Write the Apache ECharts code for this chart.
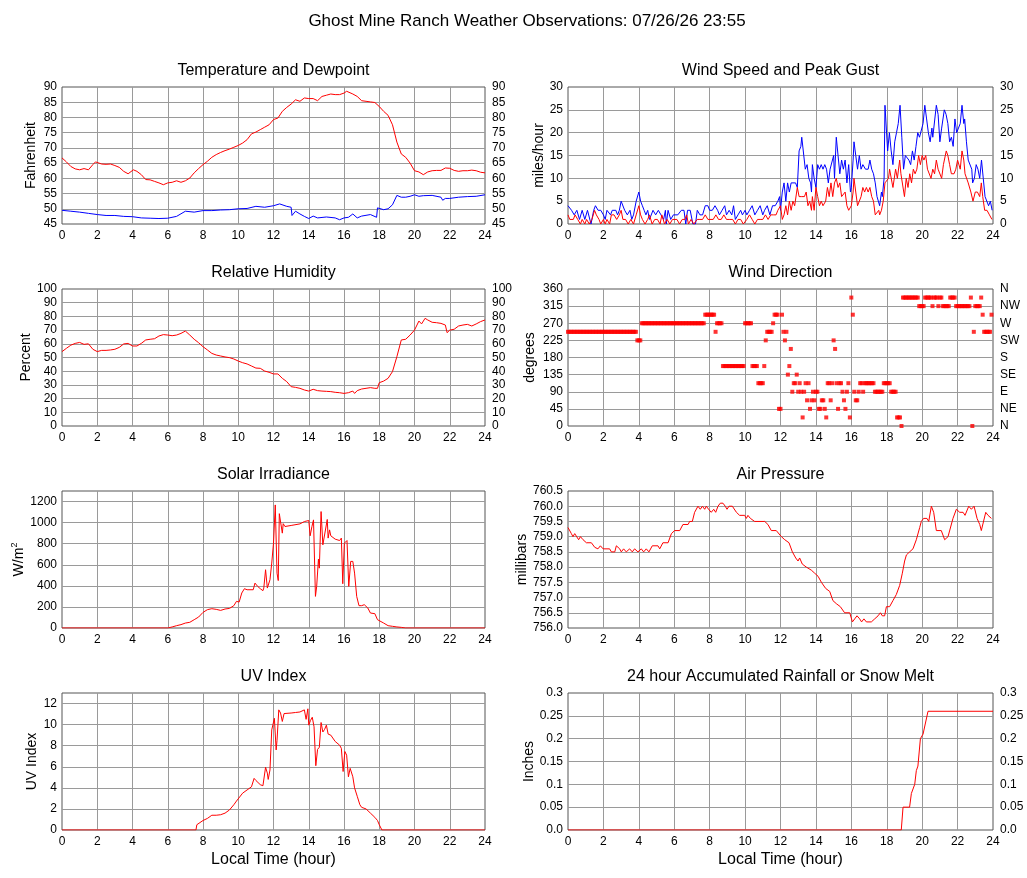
<!DOCTYPE html>
<html>
<head>
<meta charset="utf-8">
<title>Ghost Mine Ranch Weather Observations</title>
<script src="https://cdn.jsdelivr.net/npm/echarts@6/dist/echarts.min.js"></script>
<style>
    html, body { margin: 0; padding: 0; background: #fff; }
    #chart { width: 1027px; height: 878px; }
</style>
</head>
<body>
<div id="chart"></div>
<script>
// 观测数据 [hour, value]
const temperature = [[0,66.7],[0.25,65.4],[0.5,63.9],[0.75,63.1],[1,62.8],[1.25,63.2],[1.5,62.8],[1.75,64.5],[1.9,65.4],[2.25,64.7],[2.5,64.6],[2.75,64.7],[3,64.2],[3.25,63.6],[3.5,62.3],[3.75,61.5],[4.05,62.8],[4.25,62.3],[4.5,61.2],[4.75,59.6],[5,59.5],[5.25,59],[5.5,58.5],[5.75,57.9],[5.85,57.6],[6,58.5],[6.25,58.7],[6.5,59.2],[6.75,58.7],[7,59.2],[7.25,60.1],[7.5,61.8],[7.75,63.2],[8,64.5],[8.25,65.6],[8.5,66.9],[8.75,67.8],[9,68.5],[9.25,69.1],[9.5,69.6],[9.75,70.2],[10,70.8],[10.25,71.6],[10.5,72.7],[10.75,74.6],[11,75.2],[11.25,76],[11.5,76.8],[11.75,77.6],[12,79.3],[12.25,79.8],[12.5,82],[12.75,83.3],[13,84.4],[13.25,85.8],[13.5,85.3],[13.75,86.4],[14,86.2],[14.25,86.2],[14.5,85.5],[14.75,86.9],[15,87.3],[15.25,87.7],[15.5,87.5],[15.75,87.5],[16,88],[16.15,88.6],[16.25,88],[16.5,87.7],[16.75,86.9],[17,85.5],[17.25,85.3],[17.5,85.1],[17.75,84.9],[18,83.6],[18.25,82],[18.5,80.7],[18.75,77.6],[19,71.9],[19.25,68],[19.5,66.9],[19.75,65],[20,62.5],[20.25,62.1],[20.5,61.2],[20.75,62.1],[21,62.5],[21.25,62.6],[21.5,62.6],[21.75,63.4],[22,63.3],[22.25,62.6],[22.5,62.3],[22.75,62.5],[23,62.5],[23.25,62.7],[23.5,62.5],[23.75,62],[24,61.8]];

const dewpoint = [[0,49.5],[0.5,49.2],[1,48.9],[1.5,48.5],[2,48.1],[2.5,47.8],[3,47.8],[3.5,47.5],[4,47.4],[4.5,47],[5,46.9],[5.5,46.8],[6,46.9],[6.5,47.5],[7,49.2],[7.5,48.9],[8,49.4],[8.5,49.4],[9,49.6],[9.5,49.7],[10,50],[10.5,50.1],[11,50.8],[11.5,50.5],[12,51],[12.35,51.6],[12.75,50.8],[13,50.5],[13.05,47.8],[13.25,49.2],[13.5,48.3],[13.75,47.5],[14,46.8],[14.25,47.6],[14.5,47],[15,47.3],[15.5,47],[15.75,46.4],[16,47],[16.25,47.2],[16.5,48.3],[16.75,47],[17,47.6],[17.5,48.1],[17.85,47.2],[17.9,50.3],[18.25,49.7],[18.5,50],[18.75,51.3],[19,54.4],[19.25,53.8],[19.5,53.8],[19.75,54.1],[20,54.6],[20.25,54.1],[20.5,54.3],[21,54.4],[21.5,53.8],[21.6,52.8],[21.75,53.4],[22,53.4],[22.5,53.8],[23,54],[23.5,54.1],[24,54.6]];

const windGust = [[0,4],[0.2,3],[0.35,2],[0.5,3],[0.65,1],[0.8,3],[0.95,1],[1.1,3],[1.3,0],[1.45,3],[1.55,4],[1.7,3],[1.85,3],[2,2],[2.1,1],[2.2,3],[2.4,2],[2.5,3],[2.7,3],[2.8,2],[2.9,3],[3,5],[3.1,5],[3.2,3],[3.35,2],[3.5,3],[3.6,1],[3.7,2],[3.85,5],[4,7],[4.1,5],[4.2,4],[4.3,3],[4.4,2],[4.5,3],[4.6,1],[4.8,3],[4.95,2],[5.1,3],[5.25,2],[5.4,1],[5.5,3],[5.55,0],[5.65,3],[5.8,1],[5.95,2],[6.2,2],[6.4,3],[6.55,3],[6.65,0],[6.75,3],[6.9,3],[7.05,0],[7.2,0],[7.3,3],[7.45,2],[7.6,2],[7.75,4],[7.9,4],[8,3],[8.15,3],[8.3,4],[8.45,3],[8.55,2],[8.7,3],[8.85,4],[8.95,2],[9.1,3],[9.25,2],[9.35,4],[9.45,1],[9.6,2],[9.75,3],[9.85,2],[10,3],[10.1,2],[10.25,3],[10.4,4],[10.55,2],[10.7,3],[10.85,4],[11,2],[11.1,3],[11.25,4],[11.4,2],[11.55,4],[11.7,4],[11.85,5],[11.95,6],[12,3],[12.1,7],[12.2,9],[12.3,5],[12.4,9],[12.5,7],[12.6,9],[12.7,9],[12.85,9],[12.95,8],[13.05,16],[13.15,17],[13.2,19],[13.3,19],[13.4,12],[13.5,13],[13.6,10],[13.7,9],[13.75,7],[13.8,13],[13.9,10],[14,8],[14.1,13],[14.2,12],[14.3,13],[14.4,12],[14.5,13],[14.6,12],[14.7,9],[14.8,12],[14.9,12],[15,15],[15.05,10],[15.15,19],[15.25,15],[15.35,11],[15.45,14],[15.55,12],[15.65,14],[15.75,9],[15.85,13],[15.95,7],[16,8],[16.1,14],[16.15,18],[16.25,15],[16.35,12],[16.45,15],[16.55,12],[16.65,13],[16.8,12],[16.95,12],[17.05,14],[17.15,12],[17.25,11],[17.35,9],[17.45,6],[17.55,6],[17.6,4],[17.7,7],[17.75,6],[17.85,10],[17.9,26],[18,26],[18.05,16],[18.15,20],[18.25,16],[18.35,13],[18.45,18],[18.55,20],[18.65,22],[18.75,26],[18.85,19],[18.95,12],[19.05,15],[19.15,15],[19.25,14],[19.35,13],[19.45,16],[19.55,14],[19.65,17],[19.75,20],[19.85,19],[19.95,19],[20.05,22],[20.15,26],[20.25,23],[20.35,20],[20.45,18],[20.55,21],[20.6,19],[20.7,19],[20.8,26],[20.9,24],[21,18],[21.1,21],[21.15,21],[21.25,25],[21.35,24],[21.45,22],[21.55,18],[21.65,19],[21.75,17],[21.85,23],[21.95,20],[22.05,20],[22.15,22],[22.25,26],[22.35,22],[22.4,23],[22.5,18],[22.6,14],[22.7,14],[22.8,12],[22.85,9],[22.95,10],[23.05,13],[23.15,12],[23.25,10],[23.3,10],[23.35,14],[23.45,10],[23.55,6],[23.65,6],[23.75,4],[23.85,5],[23.95,3]];

const windSpeed = [[0,2],[0.1,1],[0.3,1],[0.4,2],[0.55,1],[0.7,0],[0.8,1],[0.95,0],[1.05,1],[1.2,0],[1.35,1],[1.5,3],[1.6,2],[1.75,1],[1.85,0],[2,1],[2.1,0],[2.2,1],[2.35,0],[2.45,2],[2.6,2],[2.75,1],[2.9,2],[3,3],[3.1,1],[3.25,1],[3.4,0],[3.55,1],[3.7,0],[3.85,2],[4,4],[4.1,2],[4.2,1],[4.35,0],[4.5,1],[4.6,2],[4.75,0],[4.9,1],[5.05,1],[5.2,0],[5.3,2],[5.45,0],[5.6,1],[5.75,0],[5.9,1],[6.15,1],[6.3,0],[6.45,1],[6.6,1],[6.7,2],[6.8,0],[6.95,1],[7.1,0],[7.3,1],[7.45,1],[7.6,1],[7.75,2],[7.9,1],[8.2,1],[8.35,2],[8.5,1],[8.65,1],[8.8,2],[8.95,1],[9.1,1],[9.3,1],[9.45,0],[9.6,1],[9.75,1],[9.9,0],[10.1,1],[10.25,2],[10.4,1],[10.55,0],[10.7,1],[10.85,1],[11,1],[11.15,2],[11.3,1],[11.45,2],[11.6,2],[11.75,2],[11.85,3],[12,4],[12.1,1],[12.2,2],[12.3,4],[12.4,2],[12.5,5],[12.6,3],[12.7,5],[12.8,4],[12.95,8],[13.05,6],[13.2,6],[13.35,6],[13.45,7],[13.55,4],[13.65,5],[13.75,3],[13.8,6],[13.9,3],[14,8],[14.1,6],[14.2,4],[14.3,5],[14.4,4],[14.55,5],[14.65,8],[14.75,6],[14.85,9],[14.95,6],[15.05,9],[15.15,10],[15.25,8],[15.35,9],[15.45,6],[15.55,6],[15.65,7],[15.75,4],[15.85,3],[15.95,3],[16,4],[16.1,7],[16.15,10],[16.25,7],[16.35,4],[16.45,4],[16.55,6],[16.65,8],[16.75,7],[16.85,8],[16.95,7],[17.05,8],[17.15,6],[17.25,5],[17.35,2],[17.45,2],[17.55,3],[17.6,2],[17.7,3],[17.8,5],[17.9,9],[18,9],[18.1,10],[18.16,12],[18.3,9],[18.35,8],[18.5,12],[18.6,10],[18.73,14],[18.8,11],[19,6],[19.1,10],[19.2,8],[19.3,11],[19.4,9],[19.5,12],[19.6,11],[19.7,12],[19.8,15],[19.9,13],[20,15],[20.1,14],[20.2,15],[20.3,12],[20.5,10],[20.6,12],[20.7,11],[20.8,14],[20.9,12],[21.1,10],[21.2,13],[21.36,16],[21.45,15],[21.55,13],[21.65,11],[21.8,11],[21.9,12],[22,14],[22.15,12],[22.25,16],[22.35,14],[22.42,11],[22.6,9],[22.7,9],[22.75,7],[22.87,5],[23,7],[23.12,7],[23.25,6],[23.34,9],[23.42,6],[23.53,3],[23.66,3],[23.8,2],[23.94,1]];

const humidity = [[0,54.3],[0.25,56.7],[0.5,59],[0.75,60.3],[1,61],[1.25,59.6],[1.5,60],[1.75,56],[2,54.3],[2.25,55.2],[2.5,55.2],[2.75,55.5],[3,56],[3.25,57.4],[3.5,59.9],[3.75,60.3],[4,58.4],[4.25,58.4],[4.5,60.3],[4.75,62.8],[5,63.3],[5.25,63.7],[5.5,65.7],[5.75,66.7],[6,66.4],[6.25,65.9],[6.5,66.4],[6.75,67.6],[7,69.3],[7.25,66.4],[7.5,63.3],[7.75,60.8],[8,57.9],[8.25,55.5],[8.5,53],[8.75,51.8],[9,51.1],[9.25,50.4],[9.5,49.9],[9.75,48.9],[10,47.4],[10.25,46.2],[10.5,45.3],[10.75,43.8],[11,42.3],[11.25,42.1],[11.5,40.1],[11.75,39.2],[12,38],[12.25,38],[12.5,34.8],[12.75,32.4],[13,28.7],[13.25,28.2],[13.5,27.5],[13.75,26.3],[14,25.5],[14.25,26.8],[14.5,25.8],[14.75,25.5],[15,25.3],[15.25,25.1],[15.5,24.6],[15.75,24.3],[16,23.8],[16.25,24.3],[16.5,25.5],[16.6,23.8],[16.75,25.8],[17,27],[17.25,27.5],[17.5,28],[17.75,27.5],[17.9,27.5],[18,31.6],[18.25,32.8],[18.5,34.8],[18.75,39.7],[19,50.6],[19.25,62.8],[19.5,63.3],[19.75,66.4],[20,70],[20.25,76.6],[20.4,74.5],[20.6,78.6],[20.75,77.4],[21,75.7],[21.25,75.4],[21.5,74.9],[21.75,73.7],[21.85,68.1],[22,70],[22.25,70.6],[22.5,73],[22.75,73.7],[23,74.2],[23.25,73],[23.5,74.5],[23.75,76.2],[24,77.4]];

// 风向: 5 分钟一个样本, 从 00:00 起
const windDirDeg = [
    247.5,247.5,247.5,247.5,247.5,247.5,247.5,247.5,247.5,247.5,247.5,247.5,
    247.5,247.5,247.5,247.5,247.5,247.5,247.5,247.5,247.5,247.5,247.5,247.5,
    247.5,247.5,247.5,247.5,247.5,247.5,247.5,247.5,247.5,247.5,247.5,247.5,
    247.5,247.5,247.5,247.5,247.5,247.5,247.5,247.5,247.5,247.5,247.5,225,
    225,225,270,270,270,270,270,270,270,270,270,270,
    270,270,270,270,270,270,270,270,270,270,270,270,
    270,270,270,270,270,270,270,270,270,270,270,270,
    270,270,270,270,270,270,270,270,270,292.5,292.5,292.5,
    292.5,292.5,292.5,292.5,247.5,270,270,270,270,157.5,157.5,157.5,
    157.5,157.5,157.5,157.5,157.5,157.5,157.5,157.5,157.5,157.5,157.5,157.5,
    270,270,270,270,270,157.5,157.5,157.5,157.5,112.5,112.5,112.5,
    112.5,157.5,225,247.5,247.5,247.5,247.5,270,292.5,292.5,292.5,45,
    45,292.5,247.5,225,247.5,135,157.5,202.5,90,112.5,112.5,135,
    90,112.5,90,22.5,90,112.5,67.5,112.5,45,67.5,90,67.5,
    90,90,45,45,67.5,67.5,45,22.5,112.5,112.5,67.5,112.5,
    225,202.5,112.5,45,112.5,112.5,90,67.5,45,90,112.5,22.5,
    337.5,292.5,90,67.5,67.5,90,112.5,112.5,90,112.5,112.5,112.5,
    112.5,112.5,112.5,112.5,90,90,90,90,90,90,112.5,112.5,
    112.5,112.5,112.5,90,90,90,90,22.5,22.5,22.5,0,337.5,
    337.5,337.5,337.5,337.5,337.5,337.5,337.5,337.5,337.5,337.5,315,315,
    315,315,337.5,337.5,337.5,337.5,337.5,315,337.5,337.5,337.5,315,
    337.5,337.5,315,315,315,315,315,337.5,337.5,337.5,337.5,315,
    315,315,315,315,315,315,315,315,315,337.5,0,247.5,
    315,315,315,315,337.5,292.5,247.5,247.5,247.5,247.5,247.5,292.5
];
const compassPoints = ['N', 'NE', 'E', 'SE', 'S', 'SW', 'W', 'NW', 'N'];

const solar = [[0,0],[6,0],[6.25,10],[6.5,22],[6.75,32],[7,47],[7.25,54],[7.5,79],[7.75,104],[8,148],[8.25,174],[8.5,183],[8.6,190],[8.75,177],[9,167],[9.25,180],[9.5,186],[9.75,212],[9.9,253],[10,262],[10.05,246],[10.2,332],[10.35,373],[10.5,363],[10.85,363],[10.95,426],[11.05,426],[11.1,395],[11.25,373],[11.4,354],[11.45,379],[11.55,553],[11.65,379],[11.7,363],[11.8,458],[11.9,616],[12,805],[12.1,1168],[12.2,520],[12.27,450],[12.33,1085],[12.42,1070],[12.5,900],[12.55,990],[12.65,963],[13,973],[13.5,988],[13.75,1010],[14,1020],[14.08,875],[14.18,963],[14.27,1026],[14.38,300],[14.45,395],[14.55,654],[14.6,568],[14.7,1105],[14.8,789],[14.9,780],[15.05,1030],[15.1,853],[15.18,931],[15.25,875],[15.5,843],[15.75,830],[15.85,853],[15.93,420],[16.02,805],[16.17,830],[16.27,395],[16.38,632],[16.5,632],[16.6,521],[16.72,300],[16.85,212],[17,212],[17.15,221],[17.35,190],[17.5,142],[17.75,136],[17.9,79],[18,66],[18.25,47],[18.5,22],[18.75,16],[19,10],[19.25,6],[19.5,0],[24,0]];

const pressure = [[0,759.3],[0.19,759.1],[0.28,759.0],[0.38,759.1],[0.47,759.1],[0.6,758.9],[0.7,759.0],[0.85,758.9],[1.04,758.8],[1.32,758.8],[1.51,758.65],[1.6,758.7],[1.69,758.6],[1.83,758.7],[1.98,758.6],[2.35,758.6],[2.45,758.5],[2.64,758.5],[2.73,758.7],[2.92,758.6],[3.01,758.5],[3.14,758.6],[3.29,758.5],[3.48,758.6],[3.63,758.5],[3.76,758.6],[3.95,758.5],[4.14,758.6],[4.27,758.5],[4.42,758.6],[4.57,758.5],[4.76,758.7],[5.08,758.7],[5.18,758.6],[5.36,758.8],[5.65,758.8],[5.84,759.1],[6.02,759.2],[6.31,759.2],[6.49,759.4],[6.78,759.4],[6.87,759.5],[7.02,759.5],[7.15,759.8],[7.34,760.0],[7.47,759.9],[7.59,760.0],[7.72,759.9],[7.81,760.0],[7.94,759.9],[8.09,759.8],[8.23,759.9],[8.34,759.8],[8.47,760.0],[8.6,760.1],[8.75,760.1],[8.88,760.0],[8.98,759.9],[9.09,760.0],[9.28,760.0],[9.51,759.8],[9.69,759.7],[9.98,759.7],[10.07,759.6],[10.16,759.7],[10.3,759.6],[10.54,759.5],[11.11,759.5],[11.29,759.4],[11.48,759.2],[11.76,759.2],[12.05,759.0],[12.24,758.9],[12.48,758.8],[12.67,758.5],[12.86,758.3],[12.99,758.2],[13.08,758.3],[13.23,758.1],[13.46,758.0],[13.74,757.9],[13.93,757.8],[14.12,757.7],[14.31,757.5],[14.55,757.3],[14.78,757.2],[14.96,756.9],[15.15,756.8],[15.38,756.7],[15.62,756.5],[15.91,756.5],[16.06,756.2],[16.19,756.3],[16.32,756.4],[16.47,756.3],[16.58,756.2],[16.71,756.3],[16.85,756.2],[17.13,756.2],[17.32,756.3],[17.51,756.4],[17.64,756.5],[17.75,756.4],[17.88,756.4],[17.98,756.7],[18.16,756.7],[18.35,756.9],[18.54,757.1],[18.73,757.4],[18.88,757.8],[19.01,758.2],[19.11,758.4],[19.29,758.5],[19.48,758.6],[19.67,758.9],[19.86,759.3],[19.95,759.5],[20.08,759.6],[20.27,759.6],[20.37,759.5],[20.52,760.0],[20.65,759.8],[20.8,759.2],[21.08,759.2],[21.27,758.9],[21.46,759.0],[21.74,759.6],[21.93,759.9],[22.12,759.8],[22.31,759.8],[22.42,759.7],[22.63,760.0],[22.78,759.9],[22.93,760.0],[23.1,759.6],[23.25,759.4],[23.34,759.2],[23.59,759.8],[23.72,759.7],[23.91,759.6]];

const uvIndex = [[0,0],[7.6,0],[7.65,0.5],[8,0.9],[8.25,1.1],[8.5,1.4],[8.75,1.4],[9,1.45],[9.25,1.6],[9.5,1.9],[9.75,2.4],[9.9,2.75],[10,2.6],[10.25,3.5],[10.5,3.8],[10.75,4.1],[10.9,4.9],[11,4.7],[11.25,4.3],[11.4,4.2],[11.55,5.95],[11.65,5.4],[11.7,4.8],[11.8,5.7],[11.9,9.5],[12,9.6],[12.05,10.6],[12.15,7.6],[12.2,8.5],[12.3,11.4],[12.4,11.1],[12.5,10.3],[12.6,11.05],[13,11.1],[13.25,11.15],[13.5,11.2],[13.75,11.4],[13.85,10.5],[13.95,11.5],[14,9.95],[14.1,10.4],[14.2,10.7],[14.3,9.8],[14.4,6.1],[14.5,7.65],[14.6,7.85],[14.7,10.2],[14.8,9.3],[14.9,9.55],[15,9.95],[15.1,9.1],[15.25,9.0],[15.5,8.4],[15.75,8.05],[15.85,7.75],[15.95,5.55],[16.05,7.45],[16.15,7.1],[16.25,5.05],[16.35,5.85],[16.5,5.05],[16.6,4.0],[16.75,3.2],[16.9,2.4],[17,2.15],[17.25,2.0],[17.5,1.6],[17.75,1.2],[17.9,0.9],[18,0.5],[18.15,0],[24,0]];

const rainfall = [[0,0],[18.82,0],[18.92,0.05],[19.29,0.05],[19.39,0.08],[19.48,0.08],[19.58,0.1],[19.67,0.13],[19.76,0.14],[19.9,0.2],[20.05,0.21],[20.15,0.21],[20.33,0.26],[24,0.26]];

const mainTitle = 'Ghost Mine Ranch Weather Observations: 07/26/26 23:55';

const FONT = '"Liberation Sans", Arial, Helvetica, sans-serif';
const RED = '#ff0000';
const BLUE = '#0000ff';
const GRID_LINE = '#9a9a9a';

const columns = [{ left: 62, width: 423 }, { left: 568, width: 425 }];
const rowTops = [87, 289, 491, 693];
const rowTitleTops = [63, 265, 467, 669];
const PLOT_H = 137;

function rainLabel(v) {
    return v === 0 ? '0.0' : String(+v.toFixed(2));
}

const panels = [
    { title: 'Temperature and Dewpoint', yName: 'Fahrenheit', nameGap: 24, min: 45, max: 90, interval: 5, rightAxis: true },
    { title: 'Wind Speed and Peak Gust', yName: 'miles/hour', nameGap: 22, min: 0, max: 30, interval: 5, rightAxis: true },
    { title: 'Relative Humidity', yName: 'Percent', nameGap: 28, min: 0, max: 100, interval: 10, rightAxis: true },
    { title: 'Wind Direction', yName: 'degrees', nameGap: 31, min: 0, max: 360, interval: 45, rightAxis: true,
      rightFormatter: v => compassPoints[Math.round(v / 45)] },
    { title: 'Solar Irradiance', yName: '{a|W/m}{b|2}', nameGap: 34, min: 0, max: 1300, interval: 200, hideMax: true,
      formatter: v => String(v) },
    { title: 'Air Pressure', yName: 'millibars', nameGap: 38, min: 756, max: 760.5, interval: 0.5,
      formatter: v => v.toFixed(1) },
    { title: 'UV Index', yName: 'UV Index', nameGap: 23, min: 0, max: 13, interval: 2, hideMax: true, xName: true },
    { title: '24 hour Accumulated Rainfall or Snow Melt', yName: 'Inches', nameGap: 32, min: 0, max: 0.3, interval: 0.05,
      rightAxis: true, formatter: rainLabel, xName: true }
];

const labelStyle = { color: '#000', fontFamily: FONT, fontSize: 12 };
const splitLine = { show: true, showMinLine: false, showMaxLine: false, lineStyle: { color: GRID_LINE, width: 1 } };
const nameStyle = {
    fontFamily: FONT, fontSize: 14, color: '#000',
    rich: {
        a: { fontFamily: FONT, fontSize: 14, color: '#000', lineHeight: 18 },
        b: { fontFamily: FONT, fontSize: 9, color: '#000', lineHeight: 18, verticalAlign: 'top' }
    }
};

const grids = [];
const xAxes = [];
const yAxes = [];
const titles = [{
    text: mainTitle, left: 527, top: 13, textAlign: 'center', padding: 0,
    textStyle: { fontFamily: FONT, fontSize: 17, fontWeight: 'normal', color: '#000' }
}];
const leftAxisIndex = [];

panels.forEach((p, i) => {
    const col = columns[i % 2];
    const row = Math.floor(i / 2);
    grids.push({
        left: col.left, top: rowTops[row], width: col.width, height: PLOT_H,
        show: true, backgroundColor: '#fff', borderColor: '#555', borderWidth: 1,
        containLabel: false, outerBoundsMode: 'none'
    });
    titles.push({
        text: p.title, left: col.left + col.width / 2, top: rowTitleTops[row], textAlign: 'center', padding: 0,
        textStyle: { fontFamily: FONT, fontSize: 16, fontWeight: 'normal', color: '#000' }
    });
    xAxes.push({
        type: 'value', gridIndex: i, min: 0, max: 24, interval: 2,
        axisLine: { show: false }, axisTick: { show: false },
        axisLabel: { ...labelStyle, margin: 6 },
        splitLine: splitLine,
        name: p.xName ? 'Local Time (hour)' : '',
        nameLocation: 'middle', nameGap: 22,
        nameTextStyle: { fontFamily: FONT, fontSize: 16, color: '#000' }
    });
    leftAxisIndex.push(yAxes.length);
    yAxes.push({
        type: 'value', gridIndex: i, position: 'left', min: p.min, max: p.max, interval: p.interval,
        axisLine: { show: false }, axisTick: { show: false },
        axisLabel: { ...labelStyle, margin: 5, formatter: p.formatter, showMaxLabel: p.hideMax ? false : null },
        splitLine: splitLine,
        name: p.yName, nameLocation: 'middle', nameGap: p.nameGap,
        nameTextStyle: nameStyle
    });
    if (p.rightAxis) {
        yAxes.push({
            type: 'value', gridIndex: i, position: 'right', min: p.min, max: p.max, interval: p.interval,
            axisLine: { show: false }, axisTick: { show: false },
            axisLabel: { ...labelStyle, margin: 7, formatter: p.rightFormatter || p.formatter },
            splitLine: { show: false }
        });
    }
});

function lineSeries(panel, data, color) {
    return {
        type: 'line', xAxisIndex: panel, yAxisIndex: leftAxisIndex[panel], data: data,
        showSymbol: false, symbol: 'none', silent: true,
        lineStyle: { color: color, width: 1 }
    };
}

const windDir = windDirDeg.map((deg, i) => [i / 12, deg]);

const series = [
    lineSeries(0, temperature, RED),
    lineSeries(0, dewpoint, BLUE),
    lineSeries(1, windGust, BLUE),
    lineSeries(1, windSpeed, RED),
    lineSeries(2, humidity, RED),
    {
        type: 'scatter', xAxisIndex: 3, yAxisIndex: leftAxisIndex[3], data: windDir,
        symbol: 'rect', symbolSize: 4, silent: true,
        itemStyle: { color: RED }
    },
    lineSeries(4, solar, RED),
    lineSeries(5, pressure, RED),
    lineSeries(6, uvIndex, RED),
    lineSeries(7, rainfall, RED)
];

const chart = echarts.init(document.getElementById('chart'), null, { renderer: 'canvas' });
chart.setOption({
    backgroundColor: '#fff',
    animation: false,
    title: titles,
    grid: grids,
    xAxis: xAxes,
    yAxis: yAxes,
    series: series
});
</script>
</body>
</html>
